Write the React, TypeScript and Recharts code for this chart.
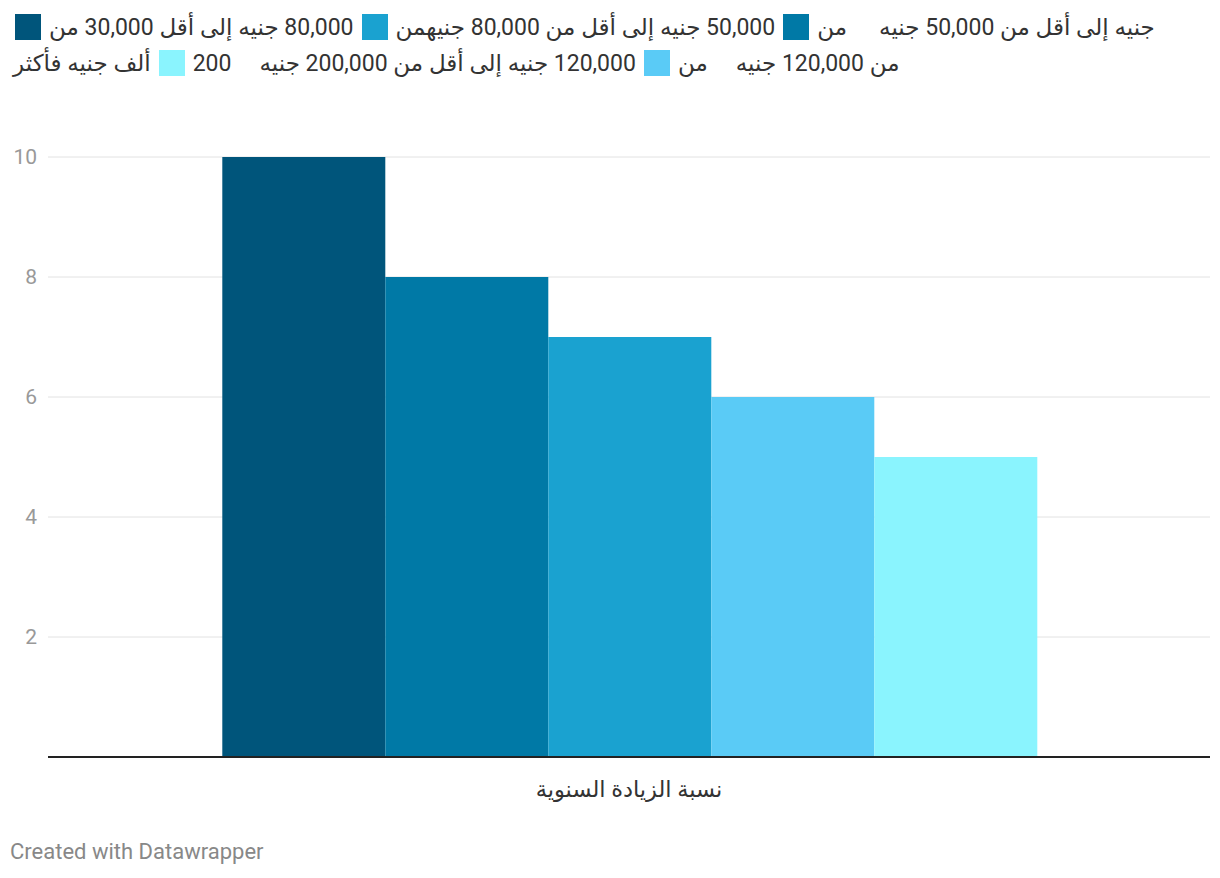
import React from 'react'
import { BarChart, Bar, XAxis, YAxis, CartesianGrid } from 'recharts'

const CATEGORY = 'نسبة الزيادة السنوية'
const SERIES_KEYS = ['s1', 's2', 's3', 's4', 's5']
const SERIES_VALUES = [10, 8, 7, 6, 5]
const SERIES_COLORS = ['#00557b', '#0079a6', '#1aa2d0', '#5acbf6', '#8af4fe']
const Y_TICKS = [2, 4, 6, 8, 10]

// legend as it appears on screen, listed right to left per line
// t = text chunk, c = swatch colour, gap = extra space
type LegendPiece = { t?: string; c?: string; gap?: number }
const LEGEND_LINE_1: LegendPiece[] = [
  { t: 'جنيه إلى أقل من 50,000 جنيه' },
  { gap: 26 },
  { t: 'من' },
  { c: '#0079a6' },
  { t: '50,000 جنيه إلى أقل من 80,000 جنيهمن' },
  { c: '#1aa2d0' },
  { t: '80,000 جنيه إلى أقل 30,000 من' },
  { c: '#00557b' },
]
const LEGEND_LINE_2: LegendPiece[] = [
  { t: 'من 120,000 جنيه' },
  { gap: 22 },
  { t: 'من' },
  { c: '#5acbf6' },
  { t: '120,000 جنيه إلى أقل من 200,000 جنيه' },
  { gap: 22 },
  { t: '200' },
  { c: '#8af4fe' },
  { t: 'ألف جنيه فأكثر' },
]

const FONT = "Roboto, 'DejaVu Sans', sans-serif"

const chartData = [
  SERIES_KEYS.reduce<Record<string, string | number>>(
    (row, k, i) => ({ ...row, [k]: SERIES_VALUES[i] }),
    { name: CATEGORY }
  ),
]

function LegendLine({ pieces, top }: { pieces: LegendPiece[]; top: number }) {
  return (
    <div
      style={{
        position: 'absolute', top, left: 10, direction: 'rtl',
        display: 'flex', alignItems: 'center', whiteSpace: 'nowrap',
        fontSize: 23, color: '#333', height: 26,
      }}
    >
      {pieces.map((p, i) => {
        if (p.c) return <span key={i} style={{ width: 26, height: 26, background: p.c, margin: '0 5px', flex: 'none' }} />
        if (p.gap) return <span key={i} style={{ width: p.gap, flex: 'none' }} />
        return <span key={i} style={{ margin: '0 3px' }}>{p.t}</span>
      })}
    </div>
  )
}

export default function App() {
  return (
    <div style={{ position: 'absolute', top: 0, left: 0, width: 1220, height: 878, background: '#fff', fontFamily: FONT }}>
      <LegendLine pieces={LEGEND_LINE_1} top={14} />
      <LegendLine pieces={LEGEND_LINE_2} top={50} />
      <div style={{ position: 'absolute', top: 0, left: 0 }}>
        <BarChart
          width={1220}
          height={878}
          data={chartData}
          margin={{ top: 157, right: 10, bottom: 0, left: 0 }}
          barCategoryGap="15%"
          barGap={0}
        >
          <CartesianGrid vertical={false} stroke="#e2e2e2" />
          <XAxis
            dataKey="name"
            height={121}
            tickLine={false}
            tickSize={0}
            tickMargin={24}
            axisLine={{ stroke: '#222', strokeWidth: 2 }}
            tick={{ fontSize: 22.5, fill: '#333', fontFamily: FONT }}
          />
          <YAxis
            width={48}
            domain={[0, 10]}
            ticks={Y_TICKS}
            axisLine={false}
            tickLine={false}
            tickSize={0}
            tickMargin={11}
            tick={{ fontSize: 21, fill: '#999', fontFamily: FONT }}
          />
          {SERIES_KEYS.map((k, i) => (
            <Bar key={k} dataKey={k} fill={SERIES_COLORS[i]} isAnimationActive={false} />
          ))}
        </BarChart>
      </div>
      <div style={{ position: 'absolute', top: 839, left: 10, fontSize: 22, color: '#888' }}>
        Created with Datawrapper
      </div>
    </div>
  )
}
